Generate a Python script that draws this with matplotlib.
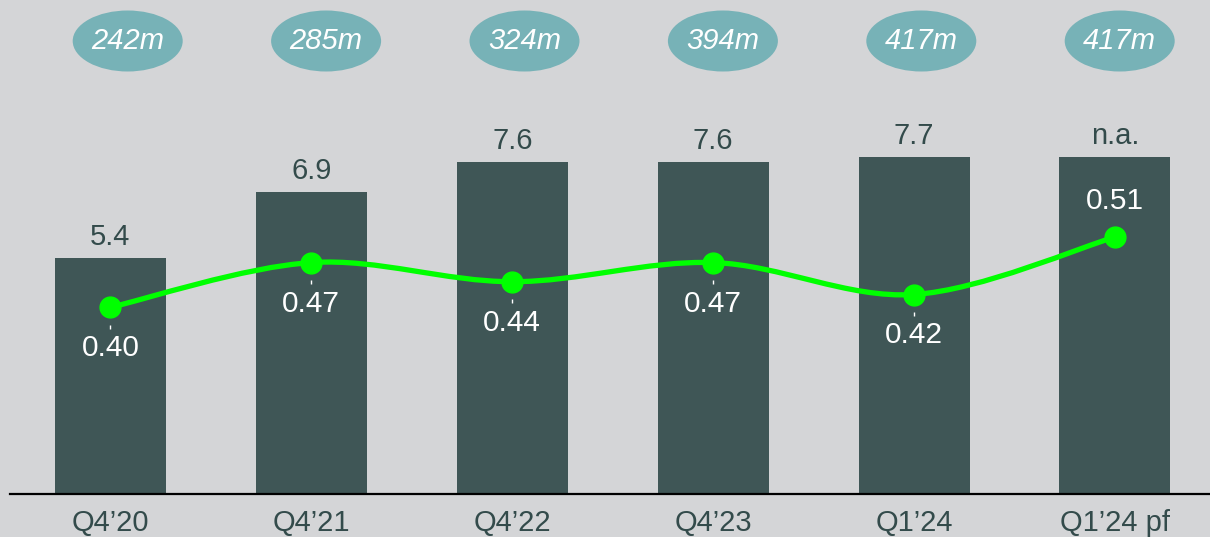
import numpy as np
from matplotlib import pyplot as plt
from matplotlib.patches import Ellipse, PathPatch
from matplotlib.path import Path
from matplotlib import transforms

plt.rcParams['font.family'] = ['Liberation Sans', 'DejaVu Sans']

# data
quarters = ['Q4\u201920', 'Q4\u201921', 'Q4\u201922', 'Q4\u201923', 'Q1\u201924', 'Q1\u201924 pf']
bar_values = [5.4, 6.9, 7.6, 7.6, 7.7, 7.7]
bar_labels = ['5.4', '6.9', '7.6', '7.6', '7.7', 'n.a.']
ratio_values = [0.40, 0.47, 0.44, 0.47, 0.42, 0.51]
ratio_labels = ['0.40', '0.47', '0.44', '0.47', '0.42', '0.51']
bubble_labels = ['242m', '285m', '324m', '394m', '417m', '417m']

bg = '#d4d5d7'
bar_col = '#3f5656'
bubble_col = '#77b2b7'
text_col = '#334b4b'
green = '#00ff00'

W, H = 1210, 537
fig = plt.figure(figsize=(W / 100, H / 100), dpi=100, facecolor=bg)
ax = fig.add_axes([10 / W, 43 / H, 1200 / W, 494 / H])
ax.set_facecolor(bg)

x = np.arange(len(quarters))
ax.bar(x, bar_values, width=0.5525, color=bar_col, zorder=2)
ax.set_xlim(-0.5, 5.473)
ax.set_ylim(0, 11.3)

for i, (v, lab) in enumerate(zip(bar_values, bar_labels)):
    ax.annotate(lab, (i, v), xytext=(0, 5), textcoords='offset points',
                ha='center', va='bottom', fontsize=21, color=text_col)

for s in ['top', 'right', 'left']:
    ax.spines[s].set_visible(False)
ax.spines['bottom'].set_linewidth(1.6)
ax.spines['bottom'].set_color('black')
ax.set_yticks([])
ax.set_xticks(x)
ax.set_xticklabels(quarters, fontsize=21, color=text_col)
ax.tick_params(axis='x', length=0, pad=11)

# ratio line on a second scale
ax2 = ax.twinx()
ax2.set_ylim(0.1078, 0.8809)
ax2.axis('off')

# smooth curve through the points (Catmull-Rom -> cubic Bezier)
pts = np.column_stack([x, ratio_values]).astype(float)
verts = [tuple(pts[0])]
codes = [Path.MOVETO]
n = len(pts)
for k in range(n - 1):
    p0 = pts[k - 1] if k > 0 else pts[k]
    p1 = pts[k]
    p2 = pts[k + 1]
    p3 = pts[k + 2] if k + 2 < n else pts[k + 1]
    c1 = p1 + (p2 - p0) / 6
    c2 = p2 - (p3 - p1) / 6
    verts += [tuple(c1), tuple(c2), tuple(p2)]
    codes += [Path.CURVE4] * 3
ax2.add_patch(PathPatch(Path(verts, codes), fill=False, edgecolor=green, lw=3.8,
                        zorder=3, capstyle='round'))
ax2.plot(x, ratio_values, 'o', color=green, ms=15, zorder=4)

tick_tr = ax2.transData + transforms.ScaledTranslation(0, -19.5 / 100, fig.dpi_scale_trans)
for i, (v, lab) in enumerate(zip(ratio_values, ratio_labels)):
    if i == len(ratio_values) - 1:
        ax2.annotate(lab, (i, v), xytext=(0, 26), textcoords='offset points',
                     ha='center', va='center', fontsize=21.5, color='white')
    else:
        ax2.annotate(lab, (i, v), xytext=(0, -29.5), textcoords='offset points',
                     ha='center', va='center', fontsize=21.5, color='white')
        ax2.plot([i], [v], marker='|', ms=2.5, mew=1, color='white',
                 transform=tick_tr, zorder=4)

# bubbles on top
for i, lab in enumerate(bubble_labels):
    cx = (127.7 + 198.4 * i) / W
    cy = 1 - 41 / H
    fig.add_artist(Ellipse((cx, cy), 110 / W, 61 / H, transform=fig.transFigure,
                           facecolor=bubble_col, edgecolor='none'))
    fig.text(cx, cy, lab, ha='center', va='center', fontsize=21, style='italic',
             color='white')

fig.savefig('out.png', dpi=100, facecolor=bg)
